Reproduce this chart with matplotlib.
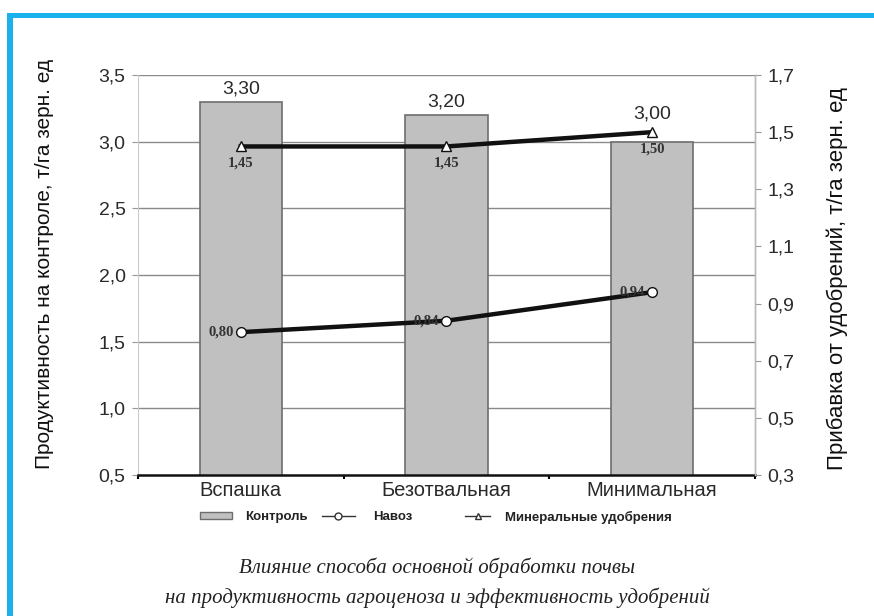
import matplotlib
matplotlib.use("Agg")
import matplotlib.pyplot as plt
from matplotlib.patches import Rectangle, Patch
from matplotlib.lines import Line2D

categories = ["Вспашка", "Безотвальная", "Минимальная"]
control = [3.30, 3.20, 3.00]
manure = [0.80, 0.84, 0.94]
mineral = [1.45, 1.45, 1.50]
left_ticks = [0.5, 1.0, 1.5, 2.0, 2.5, 3.0, 3.5]
right_ticks = [0.3, 0.5, 0.7, 0.9, 1.1, 1.3, 1.5, 1.7]
legend_labels = ["Контроль", "Навоз", "Минеральные удобрения"]

plt.rcParams['font.family'] = ['Liberation Sans', 'DejaVu Sans']

fig = plt.figure(figsize=(8.74, 6.16), dpi=100)
ax = fig.add_axes([0.1579, 0.2289, 0.7059, 0.6493])
ax2 = ax.twinx()

x = list(range(len(categories)))
txt = '#2a2a2a'

# gridlines
for t in left_ticks[1:]:
    ax.axhline(t, color='#8a8a8a', lw=1.0, zorder=1)

ax.bar(x, control, width=0.4, color='#c0c0c0', edgecolor='#6e6e6e', linewidth=1.2, zorder=2)
label_pad = [3, 3, 14]  # points above bar top
for xi, v, pad in zip(x, control, label_pad):
    ax.annotate(f"{v:.2f}".replace('.', ','), (xi, v), xytext=(0, pad), textcoords='offset points',
                ha='center', va='bottom', fontsize=14, color=txt, zorder=5)

ax.set_xlim(-0.5, 2.5)
ax.set_ylim(0.5, 3.5)
ax.set_yticks(left_ticks)
ax.set_yticklabels([f"{t:.1f}".replace('.', ',') for t in left_ticks], fontsize=14, color=txt)
ax.set_xticks(x)
ax.set_xticklabels(categories, fontsize=14.5, color=txt)
ax.set_xticks([-0.5, 0.5, 1.5, 2.5], minor=True)
ax.tick_params(axis='x', which='major', length=0, pad=4)
ax.tick_params(axis='x', which='minor', length=3, width=1.5, color='black', direction='out')
ax.tick_params(axis='y', length=4, width=0.8, color='#999999', pad=5)

for s in ['top']:
    ax.spines[s].set_visible(False)
    ax2.spines[s].set_visible(False)
ax.spines['left'].set_color('#cccccc')
ax.spines['left'].set_linewidth(0.8)
ax.spines['bottom'].set_color('#111111')
ax.spines['bottom'].set_linewidth(1.8)
ax2.spines['right'].set_color('#bbbbbb')
ax2.spines['right'].set_linewidth(1.0)
ax2.spines['left'].set_visible(False)
ax2.spines['bottom'].set_visible(False)

ax2.set_ylim(0.3, 1.7)
ax2.set_yticks(right_ticks)
ax2.set_yticklabels([f"{t:.1f}".replace('.', ',') for t in right_ticks], fontsize=14, color=txt)
ax2.tick_params(axis='y', length=4, width=0.8, color='#999999', pad=5)

ax2.plot(x, mineral, color='#111111', lw=3.2, marker='^', markersize=6.5,
         markerfacecolor='white', markeredgecolor='#111111', markeredgewidth=1.0, zorder=4)
ax2.plot(x, manure, color='#111111', lw=3.2, marker='o', markersize=7,
         markerfacecolor='white', markeredgecolor='#111111', markeredgewidth=1.0, zorder=4)

lab_font = ['Liberation Serif', 'DejaVu Serif']
for xi, v in zip(x, mineral):
    ax2.text(xi, v - 0.035, f"{v:.2f}".replace('.', ','), ha='center', va='top',
             fontsize=10.5, fontweight='bold', family=lab_font, color='#333333', zorder=5)
for xi, v in zip(x, manure):
    ax2.text(xi - 0.035, v, f"{v:.2f}".replace('.', ','), ha='right', va='center',
             fontsize=10.5, fontweight='bold', family=lab_font, color='#333333', zorder=5)

fig.text(0.051, 1 - 264 / 616, "Продуктивность на контроле, т/га зерн. ед", rotation=90,
         ha='center', va='center', fontsize=15, color='#111111')
fig.text(0.958, 1 - 279 / 616, "Прибавка от удобрений, т/га зерн. ед", rotation=90,
         ha='center', va='center', fontsize=16, color='#111111')

handles = [
    Patch(facecolor='#c0c0c0', edgecolor='#6e6e6e', linewidth=1.0),
    Line2D([], [], color='#333333', lw=1.0, marker='o', markersize=5,
           markerfacecolor='white', markeredgecolor='#333333'),
    Line2D([], [], color='#333333', lw=1.0, marker='^', markersize=5,
           markerfacecolor='white', markeredgecolor='#333333'),
]
leg_x = [200, 322, 465]
leg_hl = [2.4, 2.5, 1.9]
leg_tp = [1.0, 1.35, 1.1]
for h, lab, lx, hl, tp in zip(handles, legend_labels, leg_x, leg_hl, leg_tp):
    leg = fig.legend([h], [lab], loc='center left', bbox_to_anchor=(lx / 874, 1 - 517 / 616),
                     frameon=False, prop={'size': 9.5, 'weight': 'bold'}, handlelength=hl,
                     handleheight=0.5, handletextpad=tp, borderpad=0, borderaxespad=0)
    for t in leg.get_texts():
        t.set_color('#222222')

cap_font = ['Liberation Serif', 'DejaVu Serif']
fig.text(0.5, 1 - 568 / 616, "Влияние способа основной обработки почвы", ha='center', va='center',
         fontsize=15, style='italic', family=cap_font, color='#222222')
fig.text(0.5, 1 - 598 / 616, "на продуктивность агроценоза и эффективность удобрений", ha='center',
         va='center', fontsize=15, style='italic', family=cap_font, color='#222222')

blue = '#19b2ec'
fig.patches.append(Rectangle((7 / 874, 0), 6 / 874, 1 - 13 / 616, transform=fig.transFigure,
                             facecolor=blue, edgecolor='none'))
fig.patches.append(Rectangle((7 / 874, 1 - 18 / 616), 1, 5 / 616, transform=fig.transFigure,
                             facecolor=blue, edgecolor='none'))

fig.savefig("out.png", dpi=100)
